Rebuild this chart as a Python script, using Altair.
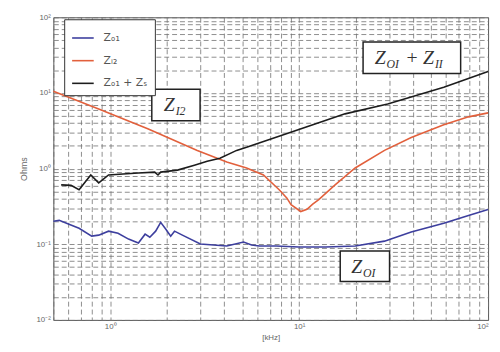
import altair as alt
import pandas as pd

# ---- data ----
freq_o1 = [0.50, 0.537, 0.605, 0.684, 0.798, 0.869, 0.98, 1.10, 1.25, 1.41, 1.53, 1.62, 1.74,
           1.85, 1.97, 2.09, 2.19, 2.41, 3.00, 4.14, 5.08, 5.60, 6.16, 7.55, 9.95, 13.8,
           19.8, 28.3, 39.2, 58.3, 78.8, 100]
z_o1 = [0.201, 0.207, 0.184, 0.163, 0.128, 0.132, 0.149, 0.140, 0.117, 0.104, 0.136, 0.124, 0.149,
        0.195, 0.158, 0.128, 0.149, 0.132, 0.101, 0.095, 0.107, 0.098, 0.095, 0.095, 0.092, 0.092,
        0.095, 0.110, 0.145, 0.189, 0.240, 0.288]

freq_i2 = [0.50, 0.869, 1.58, 2.89, 4.14, 5.27, 6.47, 7.84, 8.6, 9.06, 10.2, 11.0, 11.8, 12.7,
           15.5, 19.8, 28.3, 39.2, 58.3, 78.8, 100]
z_i2 = [10.5, 6.14, 3.37, 1.74, 1.22, 1.02, 0.823, 0.525, 0.41, 0.334, 0.271, 0.29, 0.34, 0.389,
        0.610, 1.02, 1.74, 2.57, 3.80, 4.83, 5.45]

freq_s = [0.55, 0.62, 0.684, 0.789, 0.869, 0.98, 1.17, 1.41, 1.72, 1.79, 1.85, 2.27, 2.79, 3.26,
          3.81, 4.67, 5.27, 9.62, 17.5, 29.4, 58.3, 100]
z_s = [0.61, 0.60, 0.525, 0.823, 0.647, 0.823, 0.847, 0.873, 0.899, 0.823, 0.899, 0.955, 1.11, 1.25,
       1.37, 1.74, 1.91, 3.18, 5.29, 7.13, 11.9, 19.2]

series_names = ["Zₒ₁", "Zᵢ₂", "Zₒ₁ + Zₛ"]
series_colors = ["#3d3f9e", "#e2603c", "#1c1c1c"]

x_ticks = [0.5, 0.6, 0.7, 0.8, 0.9] + [round(m * 10 ** e, 6) for e in (0, 1) for m in range(1, 10)] + [100]
y_ticks = [round(m * 10 ** e, 6) for e in (-2, -1, 0, 1) for m in range(1, 10)] + [100]
decade_labels = {0.01: "10⁻²", 0.1: "10⁻¹", 1: "10⁰", 10: "10¹", 100: "10²"}

# annotation boxes (data coordinates)
box_x = [1.66, 21.8, 16.5]
box_x2 = [2.99, 71.6, 30.1]
box_y = [4.29, 18.1, 0.0322]
box_y2 = [11.2, 47.2, 0.0817]

# annotation text pieces: (x, y, text, dx, dy, size)
ann_pieces = [
    (2.22, 6.92, "Z", -12, 0, 20), (2.22, 6.92, "I2", 0, 6, 12),
    (39.2, 29.2, "Z", -37, 0, 20), (39.2, 29.2, "OI", -25, 6, 12),
    (39.2, 29.2, "+", -6, 0, 20), (39.2, 29.2, "Z", 12, 0, 20), (39.2, 29.2, "II", 24, 6, 12),
    (22.3, 0.0506, "Z", -14, 0, 20), (22.3, 0.0506, "OI", -2, 6, 12),
]

# ---- build ----
rows = []
for name, fs, zs in zip(series_names, [freq_o1, freq_i2, freq_s], [z_o1, z_i2, z_s]):
    for f, z in zip(fs, zs):
        rows.append({"series": name, "f": f, "z": z})
df = pd.DataFrame(rows)

label_expr = " : ".join(
    f"datum.value == {k} ? '{v}'" for k, v in decade_labels.items()
) + " : ''"

xscale = alt.Scale(type="log", domain=[0.5, 100], nice=False)
yscale = alt.Scale(type="log", domain=[0.01, 100], nice=False)

lines = alt.Chart(df).mark_line(strokeWidth=1.6).encode(
    x=alt.X("f:Q", scale=xscale, title="[kHz]",
            axis=alt.Axis(values=x_ticks, labelExpr=label_expr, ticks=False, domain=False,
                          labelFontSize=8, labelColor="#666", labelPadding=3,
                          titleFontSize=8, titleColor="#666", titleFontWeight="normal",
                          titlePadding=3)),
    y=alt.Y("z:Q", scale=yscale, title="Ohms",
            axis=alt.Axis(values=y_ticks, labelExpr=label_expr, ticks=False, domain=False,
                          labelFontSize=8, labelColor="#666", labelPadding=3,
                          titleFontSize=9, titleColor="#666", titleFontWeight="normal",
                          titlePadding=8)),
    color=alt.Color("series:N",
                    scale=alt.Scale(domain=series_names, range=series_colors),
                    legend=alt.Legend(orient="none", legendX=11, legendY=2, title=None,
                                      symbolType="stroke", symbolSize=480, symbolStrokeWidth=1.6,
                                      labelFontSize=11, labelColor="#555", labelFont="DejaVu Sans",
                                      strokeColor="#333", fillColor="white", padding=7,
                                      rowPadding=6, labelOffset=9, labelLimit=200)),
    order=alt.value(0),
)

boxes_df = pd.DataFrame({"x": box_x, "x2": box_x2, "y": box_y, "y2": box_y2})
boxes = alt.Chart(boxes_df).mark_rect(fill="white", stroke="#222", strokeWidth=1.5).encode(
    x=alt.X("x:Q", scale=xscale), x2="x2:Q",
    y=alt.Y("y:Q", scale=yscale), y2="y2:Q",
)

texts = []
for (ax, ay, t, dx, dy, size) in ann_pieces:
    tdf = pd.DataFrame({"x": [ax], "y": [ay], "t": [t]})
    texts.append(
        alt.Chart(tdf).mark_text(align="left", baseline="middle", dx=dx, dy=dy, fontSize=size,
                                 font="Liberation Serif", fontStyle="italic", color="#333").encode(
            x=alt.X("x:Q", scale=xscale), y=alt.Y("y:Q", scale=yscale), text="t:N")
    )

chart = alt.layer(lines, boxes, *texts).properties(
    width=441, height=307,
    autosize=alt.AutoSizeParams(type="none"),
    padding={"left": 46, "top": 7, "right": 4, "bottom": 22},
).configure_axis(
    gridDash=[5, 3], gridColor="#707070", gridWidth=0.8, gridOpacity=1,
).configure_view(stroke="#555", strokeWidth=1)

chart.save("out.html", embed_options={"renderer": "svg", "actions": False})
